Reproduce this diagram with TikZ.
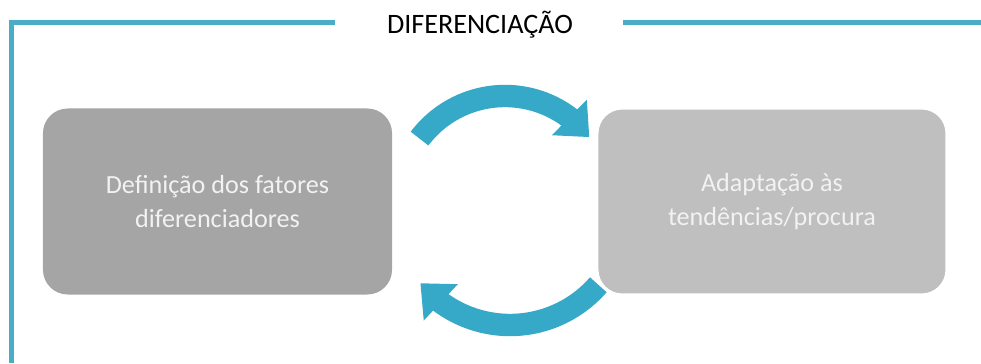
\documentclass[tikz,border=0pt]{standalone}
\usepackage{fontspec}
\setmainfont{Carlito}
\usetikzlibrary{arrows.meta,bending,positioning}
\definecolor{DifTeal}{HTML}{4BACC6}
\definecolor{DifArrow}{HTML}{35A9C7}
\definecolor{DifDark}{HTML}{A5A5A5}
\definecolor{DifLight}{HTML}{BFBFBF}
\definecolor{DifText}{HTML}{F2F2F2}

\begin{document}
\begin{tikzpicture}[
          x=0.025cm,y=0.025cm,
          frame/.style={line width=0.125cm,draw=DifTeal},
          stage/.style={rounded corners=0.62cm,minimum width=8.725cm,minimum height=4.65cm,
            align=center,text=DifText,font=\fontsize{18.6}{23.6}\selectfont},
          turn/.style={-{Triangle[width=1.2cm,length=0.7cm]},line width=0.56cm,draw=DifArrow},
          heading/.style={font=\fontsize{20}{24}\selectfont}
        ]
        \path[use as bounding box] (0,0) rectangle (981,363);
        \draw[frame] (335,340) -- (11.5,340) -- (11.5,0);
        \draw[frame] (623,340) -- (981,340);
        \node[heading,anchor=base] (title) at (480,329) {DIFERENCIAÇÃO};

        \node[stage,fill=DifDark] (defin) at (217.5,161.5)
          {Definição dos fatores\\diferenciadores};

        \coordinate (tophub) at (505,160);
        \coordinate (bothub) at (510,155);
        \coordinate (topstart) at ([shift={(143:107)}]tophub);
        \coordinate (botstart) at ([shift={(-41:117)}]bothub);
        \draw[turn] (topstart) arc[start angle=143,end angle=38,radius=107];
        \draw[turn] (botstart) arc[start angle=-41,end angle=-140,radius=117];

        \node[stage,fill=DifLight,draw=white,line width=1.5pt,right=5.1cm of defin] (adapt)
          {Adaptação às\\tendências/procura};
      \end{tikzpicture}
\end{document}
